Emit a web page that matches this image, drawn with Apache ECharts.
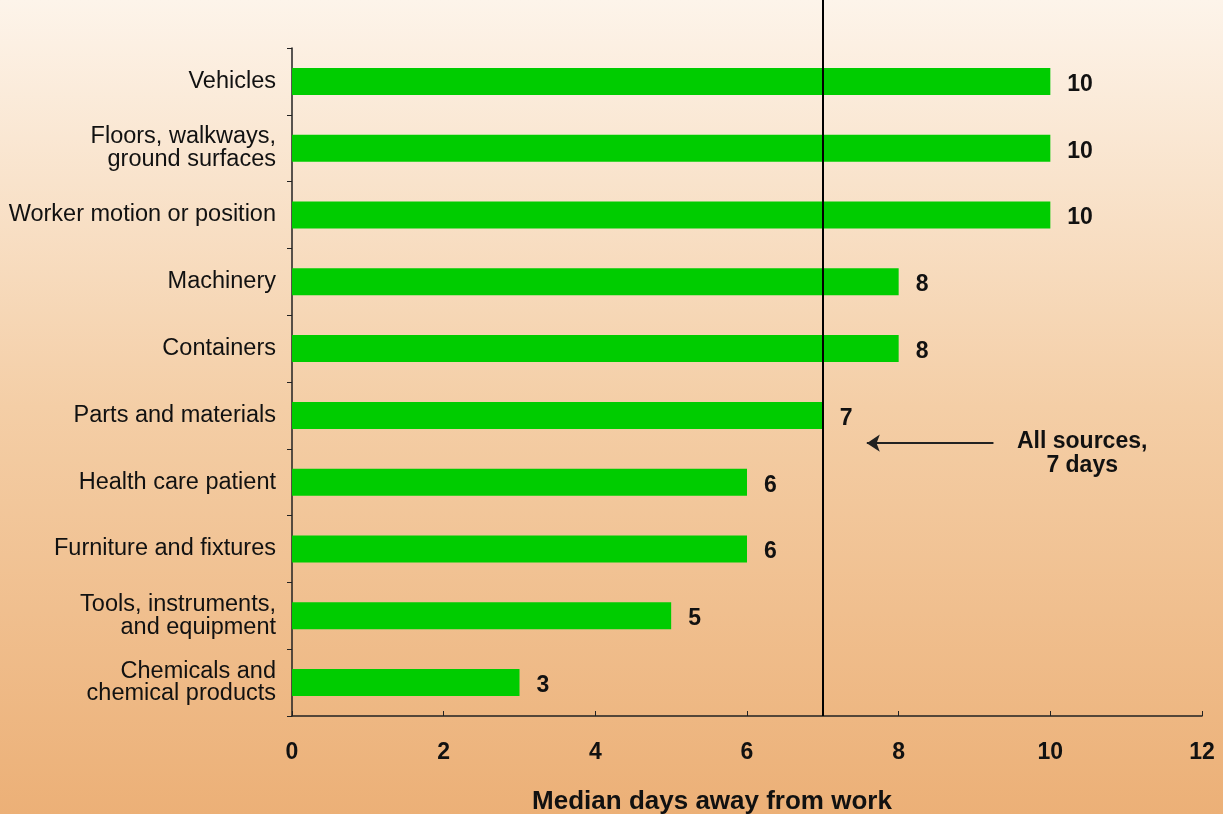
<!DOCTYPE html>
<html>
<head>
<meta charset="utf-8">
<script src="https://cdn.jsdelivr.net/npm/echarts@6/dist/echarts.min.js"></script>
<style>
  html, body { margin: 0; padding: 0; }
  #chart { width: 1223px; height: 814px; }
</style>
</head>
<body>
<div id="chart"></div>
<script>
// data
const categories = [
  'Vehicles',
  'Floors, walkways,\nground surfaces',
  'Worker motion or position',
  'Machinery',
  'Containers',
  'Parts and materials',
  'Health care patient',
  'Furniture and fixtures',
  'Tools, instruments,\nand equipment',
  'Chemicals and\nchemical products'
];
const medianDays = [10, 10, 10, 8, 8, 7, 6, 6, 5, 3];
const allSourcesDays = 7;
const noteText = 'All sources,\n7 days';
// arrow + note placed in the overlay's data units (x: days, y: % of height)
const arrowFrom = [9.25, 61.9];
const arrowTo = [7.58, 61.9];
const notePos = [10.42, 63.4];

const FONT = '"Liberation Sans", Arial, sans-serif';
const INK = '#111';

const chart = echarts.init(document.getElementById('chart'));

chart.setOption({
  backgroundColor: {
    type: 'linear', x: 0, y: 0, x2: 0, y2: 1,
    colorStops: [
      { offset: 0, color: '#fdf4ea' },
      { offset: 0.5, color: '#f4cea6' },
      { offset: 1, color: '#ecb077' }
    ]
  },
  textStyle: { fontFamily: FONT },
  animation: false,
  grid: [
    { left: 292, right: 21, top: 48, bottom: 98, outerBoundsMode: 'none', containLabel: false },
    // overlay grid for the reference line, arrow and note
    { left: 292, right: 21, top: 0, bottom: 98, outerBoundsMode: 'none', containLabel: false }
  ],
  xAxis: [
    {
      type: 'value', gridIndex: 0,
      min: 0, max: 12, interval: 2,
      axisLine: { show: true, lineStyle: { color: '#222', width: 1.5 } },
      axisTick: { show: true, inside: true, length: 5, lineStyle: { color: '#222' } },
      splitLine: { show: false },
      axisLabel: { color: INK, fontSize: 23, fontWeight: 'bold', margin: 25, fontFamily: FONT },
      name: 'Median days away from work',
      nameLocation: 'middle',
      nameGap: 73,
      nameTextStyle: { color: INK, fontSize: 26, fontWeight: 'bold', padding: [0, 70, 0, 0], fontFamily: FONT }
    },
    {
      type: 'value', gridIndex: 1, min: 0, max: 12, show: false
    }
  ],
  yAxis: [
    {
      type: 'category', gridIndex: 0,
      data: categories,
      inverse: true,
      axisLine: { show: true, lineStyle: { color: '#222', width: 1.5 } },
      axisTick: { show: true, length: 5, lineStyle: { color: '#222' } },
      axisLabel: { color: INK, fontSize: 23.5, lineHeight: 22.5, margin: 16, fontFamily: FONT }
    },
    {
      type: 'value', gridIndex: 1, min: 0, max: 100, inverse: true, show: false
    }
  ],
  series: [
    {
      type: 'bar',
      xAxisIndex: 0, yAxisIndex: 0,
      data: medianDays,
      barWidth: 27,
      itemStyle: { color: '#00cc00' },
      label: {
        show: true,
        position: 'right',
        distance: 17,
        offset: [0, 3],
        color: INK,
        fontSize: 23,
        fontWeight: 'bold',
        fontFamily: FONT
      }
    },
    {
      type: 'scatter',
      xAxisIndex: 1, yAxisIndex: 1,
      data: [notePos],
      symbolSize: 0,
      silent: true,
      itemStyle: { opacity: 1 },
      label: {
        show: true,
        position: 'inside',
        formatter: noteText,
        color: INK,
        opacity: 1,
        textBorderWidth: 0,
        fontSize: 23,
        fontWeight: 'bold',
        lineHeight: 24,
        align: 'center',
        fontFamily: FONT
      },
      markLine: {
        silent: true,
        animation: false,
        symbol: ['none', 'none'],
        label: { show: false },
        data: [
          {
            xAxis: allSourcesDays,
            lineStyle: { color: '#000', width: 2, type: 'solid' }
          },
          [
            { coord: arrowFrom, symbol: 'none' },
            { coord: arrowTo, symbol: 'arrow', symbolSize: 13 }
          ]
        ],
        lineStyle: { color: '#222', width: 2, type: 'solid' }
      }
    }
  ]
});
</script>
</body>
</html>
